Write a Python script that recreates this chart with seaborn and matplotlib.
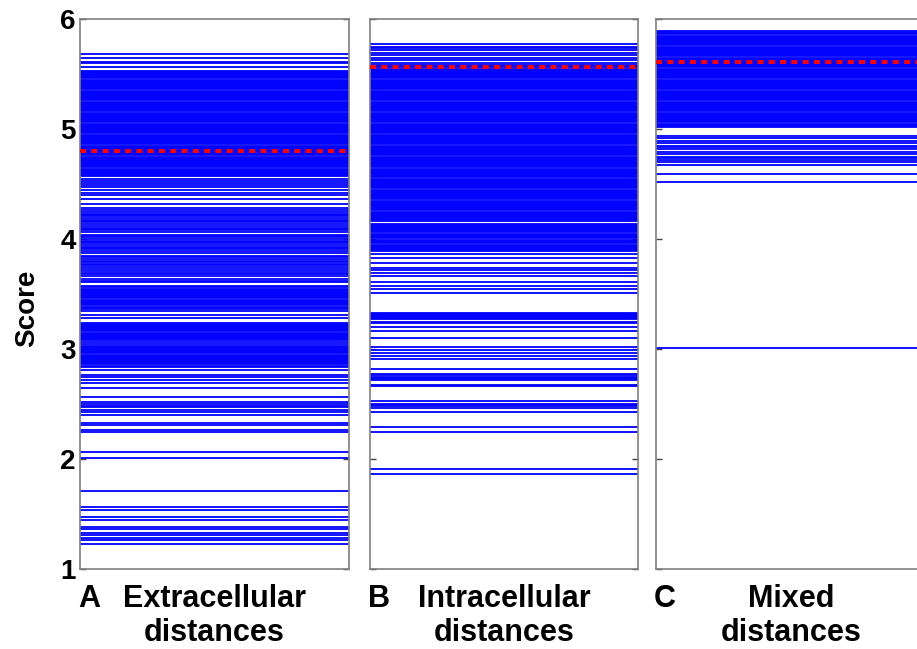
import pandas as pd
import matplotlib
matplotlib.use('Agg')
import matplotlib.pyplot as plt
import seaborn as sns

# Scores, one horizontal line per score
extracellular_scores = [
    5.68, 5.65, 5.61, 5.60, 5.56,
    5.53, 5.52, 5.51, 5.50, 5.49, 5.48, 5.47, 5.46, 5.45, 5.44,
    5.43, 5.42, 5.41, 5.40, 5.39, 5.38, 5.37, 5.36, 5.35, 5.34,
    5.33, 5.32, 5.31, 5.30, 5.29, 5.28, 5.27, 5.26, 5.25, 5.24,
    5.23, 5.22, 5.21, 5.20, 5.19, 5.18, 5.17, 5.16, 5.15, 5.14,
    5.13, 5.12, 5.11, 5.10, 5.09, 5.08, 5.07, 5.06, 5.05, 5.04,
    5.03, 5.02, 5.01, 5.00, 4.99, 4.98, 4.97, 4.96, 4.95, 4.94,
    4.93, 4.92, 4.91, 4.90, 4.89, 4.88, 4.87, 4.86, 4.85, 4.84,
    4.83, 4.82, 4.81, 4.80, 4.79, 4.78, 4.77, 4.76, 4.75, 4.74,
    4.73, 4.72, 4.71, 4.70, 4.69, 4.68, 4.67, 4.66, 4.65, 4.64,
    4.63, 4.62, 4.61, 4.60, 4.59, 4.58, 4.57,
    4.55, 4.53, 4.51, 4.49, 4.47, 4.45, 4.42, 4.40, 4.36, 4.32,
    4.28, 4.26, 4.25, 4.23, 4.22, 4.21, 4.19, 4.17, 4.16, 4.15,
    4.14, 4.12, 4.10, 4.09, 4.08, 4.06, 4.04, 4.03, 4.02, 4.00,
    3.98, 3.97, 3.96, 3.95, 3.93, 3.92, 3.91, 3.89, 3.87, 3.85,
    3.84, 3.82, 3.80, 3.79, 3.77, 3.76, 3.75, 3.73, 3.71, 3.69,
    3.68, 3.66, 3.64, 3.62, 3.61,
    3.57, 3.56, 3.55, 3.54, 3.53, 3.52, 3.51, 3.50, 3.49, 3.48,
    3.47, 3.46, 3.45, 3.44, 3.43, 3.42, 3.41, 3.40, 3.38, 3.37,
    3.36, 3.35, 3.31, 3.28,
    3.24, 3.23, 3.22, 3.21, 3.20, 3.19, 3.18, 3.17, 3.16, 3.15,
    3.14, 3.13, 3.12, 3.11, 3.10, 3.09, 3.08, 3.06, 3.05,
    3.03, 3.02, 3.01, 3.00, 2.99, 2.98, 2.97, 2.96, 2.95, 2.94,
    2.93, 2.92, 2.91, 2.90, 2.89, 2.88, 2.87, 2.86, 2.85, 2.84,
    2.81, 2.76, 2.75, 2.72, 2.69, 2.65, 2.56, 2.52, 2.50, 2.48,
    2.47, 2.45, 2.43, 2.40, 2.33, 2.31, 2.26, 2.25, 2.06, 2.01,
    1.71, 1.56, 1.54, 1.47, 1.45, 1.38, 1.36, 1.33, 1.31, 1.28,
    1.26, 1.23,
]

intracellular_scores = [
    5.77, 5.75, 5.74, 5.72, 5.69, 5.67, 5.65, 5.63, 5.60,
    5.58, 5.57, 5.56, 5.55, 5.54, 5.53, 5.52, 5.51, 5.50, 5.49,
    5.48, 5.47, 5.46, 5.45, 5.44, 5.43, 5.42, 5.41, 5.40, 5.39,
    5.38, 5.37, 5.36, 5.35, 5.34, 5.33, 5.32, 5.31, 5.30, 5.29,
    5.28, 5.27, 5.26, 5.25, 5.24, 5.23, 5.22, 5.21, 5.20, 5.19,
    5.18, 5.17, 5.16, 5.15, 5.14, 5.13, 5.12, 5.11, 5.10, 5.09,
    5.08, 5.07, 5.06, 5.05, 5.04, 5.03, 5.02, 5.01, 5.00, 4.99,
    4.98, 4.97, 4.96, 4.95, 4.94, 4.93, 4.92, 4.91, 4.90, 4.89,
    4.88, 4.87, 4.86, 4.85, 4.84, 4.83, 4.82, 4.81, 4.80, 4.79,
    4.78, 4.77, 4.76, 4.75, 4.74, 4.73, 4.72, 4.71, 4.70, 4.69,
    4.68, 4.67, 4.66, 4.65, 4.64, 4.63, 4.62, 4.61, 4.60, 4.59,
    4.58, 4.57, 4.56, 4.55, 4.54, 4.53, 4.52, 4.51, 4.50, 4.49,
    4.48, 4.47, 4.46, 4.45, 4.44, 4.43, 4.42, 4.41, 4.40, 4.39,
    4.38, 4.37, 4.36, 4.35, 4.34, 4.33, 4.32, 4.31, 4.30, 4.29,
    4.28, 4.27, 4.26, 4.25, 4.24, 4.23, 4.22, 4.21, 4.20, 4.19,
    4.18, 4.17, 4.16, 4.14, 4.13, 4.12, 4.11, 4.10, 4.09,
    4.08, 4.07, 4.06, 4.05, 4.04, 4.03, 4.02, 4.01, 3.99,
    3.98, 3.97, 3.96, 3.95, 3.94, 3.93, 3.92, 3.91, 3.90, 3.89,
    3.86, 3.83, 3.78, 3.74, 3.72, 3.69, 3.66, 3.61, 3.57, 3.55,
    3.51, 3.33, 3.32, 3.31, 3.30, 3.29, 3.28, 3.27, 3.25, 3.24,
    3.20, 3.16, 3.10, 3.02, 2.99, 2.96, 2.94, 2.91, 2.82, 2.77,
    2.76, 2.75, 2.74, 2.73, 2.72, 2.67, 2.66, 2.53, 2.50, 2.49,
    2.48, 2.46, 2.43, 2.29, 2.25, 1.91, 1.86,
]

mixed_scores = [
    5.89, 5.88, 5.87, 5.86, 5.85, 5.84, 5.83, 5.82, 5.81, 5.80,
    5.79, 5.78, 5.77, 5.76, 5.75, 5.74, 5.73, 5.72, 5.71, 5.70,
    5.69, 5.68, 5.67, 5.66, 5.65, 5.64, 5.63, 5.62, 5.61, 5.60,
    5.59, 5.58, 5.57, 5.56, 5.55, 5.54, 5.53, 5.52, 5.51, 5.50,
    5.49, 5.48, 5.47, 5.46, 5.45, 5.44, 5.43, 5.42, 5.41, 5.40,
    5.39, 5.38, 5.37, 5.36, 5.35, 5.34, 5.33, 5.32, 5.31, 5.30,
    5.29, 5.28, 5.27, 5.26, 5.25, 5.24, 5.23, 5.22, 5.21, 5.20,
    5.19, 5.18, 5.17, 5.16, 5.15, 5.14, 5.13, 5.12, 5.11, 5.10,
    5.09, 5.08, 5.07, 5.06, 5.05, 5.04, 5.03, 5.02,
    4.94, 4.92, 4.89, 4.87, 4.85, 4.84, 4.82, 4.79, 4.77, 4.75,
    4.74, 4.72, 4.70, 4.67, 4.59, 4.52, 3.01,
]

mean_scores = [4.80, 5.56, 5.61]
panel_letters = ['A', 'B', 'C']
panel_titles = ['Extracellular\ndistances', 'Intracellular\ndistances', 'Mixed\ndistances']
y_ticks = [1, 2, 3, 4, 5, 6]


def line_frame(scores):
    # each score becomes a line from x=0 to x=1
    rows = []
    for i, s in enumerate(scores):
        rows.append({'x': 0.0, 'score': s, 'line': i})
        rows.append({'x': 1.0, 'score': s, 'line': i})
    return pd.DataFrame(rows)


sns.set_style('white')
plt.rcParams['font.family'] = ['Liberation Sans', 'DejaVu Sans']
plt.rcParams['font.weight'] = 'bold'
plt.rcParams['text.color'] = 'black'
plt.rcParams['ytick.color'] = 'black'
plt.rcParams['ytick.labelcolor'] = 'black'

fig = plt.figure(figsize=(9.17, 6.49), dpi=100)
W, H = 917, 649
lefts = [80, 370, 656]
widths = [269, 268, 270]
top, bottom = 19, 569

all_scores = [extracellular_scores, intracellular_scores, mixed_scores]

for k in range(3):
    ax = fig.add_axes([lefts[k] / W, (H - bottom) / H, widths[k] / W, (bottom - top) / H])
    df = line_frame(all_scores[k])
    sns.lineplot(data=df, x='x', y='score', units='line', estimator=None,
                 color='blue', lw=1.3, sort=False, ax=ax, legend=False)
    ax.axhline(mean_scores[k], color='red', lw=2.9, dashes=(1.5, 1.3), zorder=5)

    ax.set_xlim(0, 1)
    ax.set_ylim(1, 6)
    ax.set_xticks([])
    ax.set_yticks(y_ticks)
    ax.set_xlabel('')
    ax.set_ylabel('')
    ax.tick_params(axis='y', direction='in', length=4, width=1, color='#444444',
                   left=True, right=True, pad=3, labelsize=20, labelcolor='black')
    if k > 0:
        ax.set_yticklabels([])
    else:
        for lab in ax.get_yticklabels():
            lab.set_fontweight('bold')
    for sp in ax.spines.values():
        sp.set_color('#808080')
        sp.set_linewidth(1.2)
        sp.set_visible(True)

    ax.text(0.5, -0.027, panel_titles[k], transform=ax.transAxes, ha='center', va='top',
            fontsize=22, fontweight='bold', linespacing=1.2, color='black')
    ax.text(-0.008, -0.027, panel_letters[k], transform=ax.transAxes, ha='left', va='top',
            fontsize=22, fontweight='bold', color='black')

fig.text(27 / W, 1 - 308 / H, 'Score', rotation=90, ha='center', va='center',
         fontsize=20, fontweight='bold', color='black')

fig.savefig('out.png', dpi=100)
